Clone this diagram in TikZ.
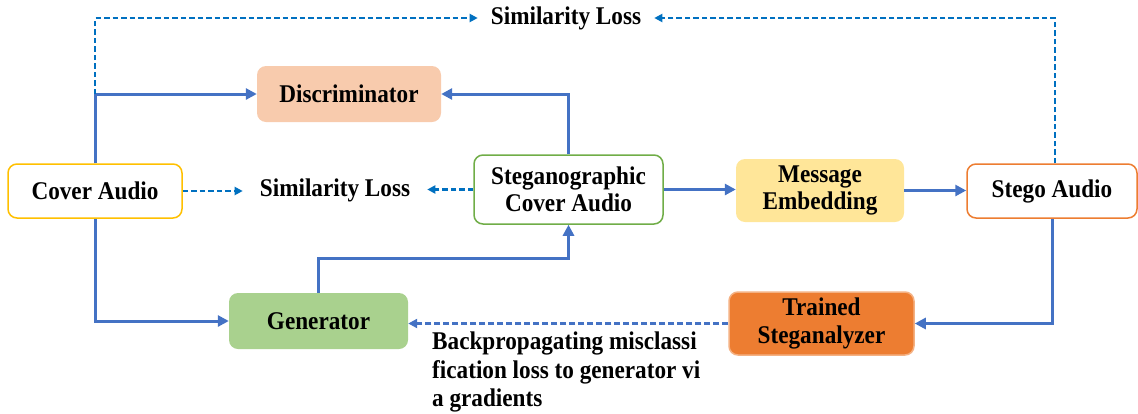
\documentclass[tikz,border=0pt]{standalone}
\usepackage{fontspec}
\setmainfont{Liberation Serif}[FakeStretch=0.91]
\usetikzlibrary{arrows.meta}
\definecolor{lineblue}{HTML}{4472C4}
\definecolor{dashblue}{HTML}{0070C0}
\definecolor{cyel}{HTML}{FFC000}
\definecolor{cgreen}{HTML}{70AD47}
\definecolor{corange}{HTML}{ED7D31}
\definecolor{lorange}{HTML}{F4B183}
\definecolor{discfill}{HTML}{F8CBAD}
\definecolor{msgfill}{HTML}{FFE699}
\definecolor{genfill}{HTML}{A9D18E}
\begin{document}
\begin{tikzpicture}[x=1pt,y=-1pt,
  txt/.style={font=\fontsize{25.5}{27.5}\selectfont\bfseries, align=center},
  box/.style={txt, rectangle, rounded corners=9pt, inner sep=0pt},
  lbl/.style={txt, inner ysep=3pt},
  solidarrow/.style={draw=lineblue, line width=3pt, -{Triangle[length=11pt,width=11pt]}},
  dasharrow/.style={draw=dashblue, line width=2.4pt, dash pattern=on 5.5pt off 3pt, -{Triangle[length=8pt,width=8pt]}},
  bpdash/.style={draw=lineblue, line width=2.6pt, dash pattern=on 6pt off 3pt, -{Triangle[length=9pt,width=9pt]}}
]
\useasboundingbox (0,0) rectangle (1138,413);

\node[box, draw=cyel, line width=1.5pt, fill=white, minimum width=174pt, minimum height=54pt] (cover) at (95,191) {Cover Audio};
\node[box, fill=discfill, minimum width=184pt, minimum height=56pt] (disc) at (349,94) {Discriminator};
\node[lbl, inner xsep=17pt] (simmid) at (335,190) {Similarity Loss};
\node[box, draw=cgreen, line width=1.5pt, fill=white, minimum width=189pt, minimum height=69pt] (steg) at (568.5,189.5) {Steganographic\\Cover Audio};
\node[box, fill=msgfill, minimum width=168pt, minimum height=63pt] (msg) at (820,190.5) {Message\\Embedding};
\node[box, draw=corange, line width=1.5pt, fill=white, minimum width=170pt, minimum height=54pt] (stego) at (1052,191) {Stego Audio};
\node[box, fill=genfill, minimum width=179pt, minimum height=56pt] (gen) at (318.5,321) {Generator};
\node[box, draw=lorange, line width=1.5pt, fill=corange, minimum width=185pt, minimum height=63pt] (trained) at (821.5,323.5) {Trained\\Steganalyzer};
\node[lbl, inner xsep=13pt] (simtop) at (566,18) {Similarity Loss};
\node[txt, align=left, anchor=north west, inner sep=0pt, font=\fontsize{25.5}{28.3}\selectfont\bfseries] (bp) at (432,332) {Backpropagating misclassi\\fication loss to generator vi\\a gradients};

% solid connectors
\draw[solidarrow] (cover.north) -- (cover.north |- disc.west) -- (disc.west);
\draw[solidarrow] (steg.north) |- (disc.east);
\draw[solidarrow] (steg.east) -- (msg.west |- steg.east);
\draw[solidarrow] (msg.east) -- (stego.west |- msg.east);
\draw[solidarrow] (stego.south) |- (trained.east);
\draw[solidarrow] (cover.south) |- (gen.west);
\draw[solidarrow] (gen.north) -- ([yshift=34pt]gen.north) -| (steg.south);

% dashed connectors
\draw[dasharrow] (cover.north |- disc.west) -- (cover.north |- simtop.west) -- (simtop.west);
\draw[dasharrow] ([xshift=3pt]stego.north) -- ([xshift=3pt]stego.north |- simtop.east) -- (simtop.east);
\draw[dasharrow] (cover.east) -- (simmid.west |- cover.east);
\draw[dasharrow] (steg.west) -- (simmid.east |- steg.west);
\draw[bpdash] (trained.west) -- (gen.east |- trained.west);
\end{tikzpicture}
\end{document}
